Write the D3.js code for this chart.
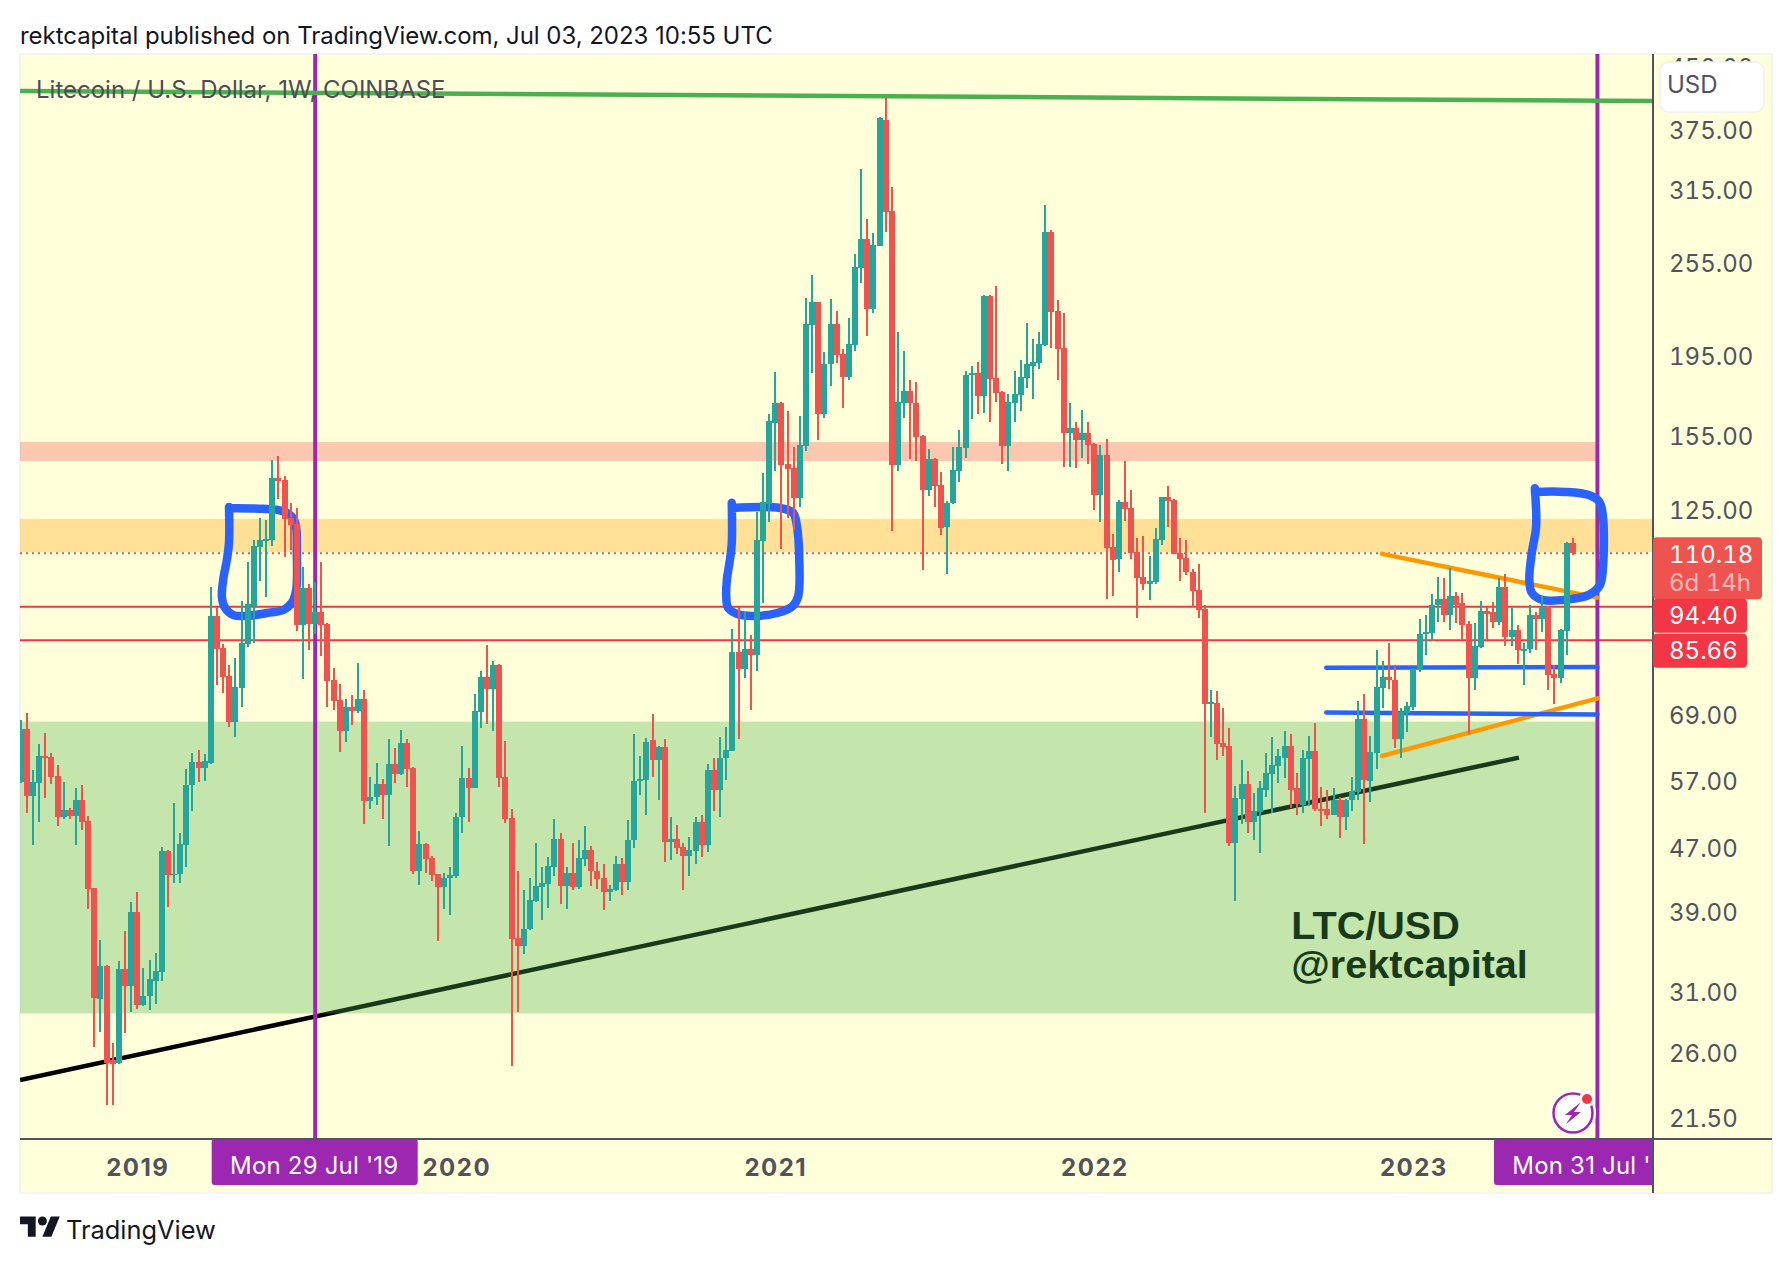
<!DOCTYPE html>
<html>
<head>
<meta charset="utf-8">
<script src="https://cdn.jsdelivr.net/npm/d3@7"></script>
<style>
  body { margin: 0; background: #fff; }
  text { font-family: Inter, "Noto Sans", sans-serif; }
  .num, .num text { font-variant-numeric: tabular-nums; }
</style>
</head>
<body>
<div id="chart"></div>
<script>
// weekly LTC/USD candles, first bar is Mon 27 Aug 2018, last is Mon 3 Jul 2023
const opens = [56.9,66.3,54.6,56.7,61.3,61.1,57.8,51.3,52.4,51.5,53.9,50.8,41.8,30.3,33.4,25.4,25.2,33.1,31.5,39,29.8,30.6,32,32.8,46.6,43.4,43.5,47.4,56.3,60.3,
  59.2,60,91.9,83.7,77.2,67.6,74.6,84.7,94.7,112.3,114.3,114.6,137,136.4,122,120,89.6,99.7,89.9,93,89.9,76.4,72.1,65.9,70.7,69.9,72.3,53.8,54.4,56.5,
  54.7,59.9,58.2,63.7,59.2,43.9,47.5,45.6,43.5,41.9,43.1,43.3,51.3,57.5,55.9,69.7,77.1,74.4,79.8,57.7,51.2,36.2,35.4,37.1,40.3,41.9,42.3,44.5,48.2,42.1,
  43.7,42,45.5,46.7,44,43,41.3,41.6,44.8,42.6,48,57,57.2,64.1,60.5,62.9,47.8,48.2,47.1,45.9,46.6,50.6,47.4,58.9,55.6,60.9,62.2,82.9,78.9,83.5,
  82,114.3,127.1,160.8,170.2,142.6,141,129.3,150.4,213.6,227.9,165,190.3,214,196,183.4,201.2,251.9,273.5,223.4,268.2,386,296.4,142.3,170.2,176.2,170.2,154.8,132.3,144.7,
  134.2,118.8,127.3,139.8,149.5,184.4,185.5,173.8,232,182.9,175.6,150.3,170.2,174.3,182.9,189.5,191,201.2,279.2,222.2,199.5,156,158.4,152.9,155.9,151.2,130.4,146.4,112.2,108.3,
  127.9,125.6,110.6,102.9,100.9,101.4,114.5,129.7,128.6,110.3,108.7,104.4,99.1,93.8,71.3,71.5,63.7,63.1,47.7,54.1,56.5,50.7,52.1,55.6,58.2,59.5,61,63.1,55.8,53.2,
  60.8,62.2,52.5,52.5,51.7,54,51.3,53.9,55.3,68.3,57,61.8,74.6,77.1,76.4,64.3,69.5,70.7,78.7,87.2,87.5,94.8,96.6,92.2,97.4,95.3,89.9,76.7,84,93.3,
  93,90.4,99.9,86.6,88.3,83.3,83.5,92.2,91.1,94.4,77.7,76.9,88,113.5];
const highs = [68.1,69.5,58.9,63.5,65.5,61.9,59.7,56.9,52.7,55.9,56.4,51.5,41.8,36,33.5,26.7,33.9,36.9,40.2,41.3,33.2,34,34.7,47.1,46.7,53.5,49.1,59,61.9,62.3,
  61.7,100,94.2,84.8,79.8,81.4,96,107.4,114.5,122,121.3,144.3,146,137.9,127.5,125.7,106,100.9,101.4,107.3,90,79.1,75.5,72.3,73.1,80.3,74.2,57.7,60,57.4,
  64.4,62.8,66.1,64.3,59.4,49.4,47.7,45.9,43.6,43.7,44.5,52,63.1,59.2,73.4,78.4,84.5,80.7,80,64,52.5,44,41.6,43,47.7,44.5,45.7,51,49.1,44.5,
  47.6,48.1,50,47.2,45.1,44.9,42.2,45.9,45.6,50.9,65.4,61.2,64.6,69.3,63,64.4,51.4,50.2,47.7,48.5,51.3,51.6,59.9,61,64.8,66.7,88.6,94.3,93,86.9,
  124.2,139,165,186.2,170.5,166.3,149.7,163.7,230.6,246.5,228,197,230,222,198.8,217.7,262.3,335,289.8,278.5,389,412.5,317.6,209,197.7,182,181,155,149,145,
  139.3,128,150,157.4,186.8,189.5,191.7,232.5,232.4,238.5,176.2,174.9,186.8,192.8,214.5,204.8,209,301.7,280.8,229.3,221,170.2,161,166.8,161,151.7,150.7,153.4,116.5,128.6,
  143.8,132.3,115,115.8,109.2,118.6,129.8,133.8,129,115,114.5,105.3,106.9,95,74.2,73.9,70.5,66.5,56.2,60.5,58.6,55.1,57,61.9,64.7,62.6,65.9,65.4,58.4,62.4,
  64.9,67.5,56,55.6,55.8,54.5,54.1,57.7,71.9,73.4,64.9,83.3,80.7,84.9,79.8,70.5,71.7,79,91.2,92.2,98,102.9,102.6,105.6,98.5,98.2,90.6,90,96,94.4,
  95.8,102.6,103.8,94,89.6,85,95,93,97.4,94.5,79.8,88.5,114,115];
const lows = [56.7,52,47.4,50.6,54.3,56.5,50.1,51,51.1,47.4,49.5,39.4,26.4,27.6,22.3,22.3,25.1,27.5,29.2,29.5,29.7,29.4,29.9,32,39.6,42.4,42.4,44.5,52.2,56.9,
  57,59.8,75.2,73.5,66.7,64.8,70.7,84,85,101.7,97,112.6,129,109,111.3,88,76.6,83.3,87.2,81.9,70.7,70.1,62,63.9,67,69.5,50.3,52.5,53.2,51.1,
  47.3,56.7,58,56,43.6,42.2,43.7,42.7,35.9,39.4,38.7,43,49,50.7,55.8,66.5,67.2,65.9,56,50.5,25,29.2,34.6,37,40.2,38.1,39.5,43.3,39.9,39.4,
  41.6,41.7,44.6,42.1,41.7,39.3,40.3,41.5,41,41.6,47,54.8,51.7,57.7,54,45.1,45.4,46.2,41.6,43.3,44.9,45.7,46.4,52.3,51.4,57.2,62.2,64.3,76.8,70.1,
  78.4,95.5,120.6,139.8,111.6,122,118,126,148,185.7,153,163,179,191,167.7,181.9,197.8,240.8,206.7,221,268,279,117.6,139.8,163,144.7,143.9,105,129.9,126,
  116.2,103.9,127,135.4,145,162.5,165,165.5,161,170.7,142.7,139.8,161,166.3,178,172,187.8,201,199.5,182,141.6,141.6,141.2,145,142.7,124.9,120.6,96.6,97.4,104.4,
  121,108.5,91.4,99,96.3,100.9,113,119,109.8,101.7,103.4,94.4,91.4,52,64.7,60.5,61.2,47.3,40.3,50.4,49.1,48,46.3,54.5,52,56.7,57.5,52.7,51.7,51.9,
  53,52.3,50.1,51,51.6,48.4,49.5,52.2,54,47.5,53.6,59,70.5,74.4,62.8,61,65.7,70.1,78.2,82,85.6,90.4,90.4,88.3,90.1,85.8,65.4,74.2,83.8,85.8,
  88.8,89.6,84.3,84.3,80,75.2,82.5,83.3,87.8,74.2,71.3,75.7,82,109.5];
const closes = [66.3,54.6,56.9,61.3,60.9,57.7,51.3,52.4,51.5,53.9,50.7,41.7,30.4,33.4,25.2,25.1,33.1,31.5,39,29.8,30.6,32.1,32.9,46.6,43.4,43.6,47.5,56.4,60.3,59.2,
  60.4,91.9,83.6,77,67.7,74.8,84.9,95.2,112.5,114.5,114.9,137,136,121.7,119.5,89.6,99.7,89.9,93,89.6,76.2,71.9,65.9,70.7,69.9,72.3,53.8,54.5,56.5,54.7,
  59.9,58.2,63.7,59,43.9,47.5,45.5,43.4,41.9,43.1,43.4,51.4,57.5,55.9,69.9,77.1,74.4,79.8,57.5,51,36.1,35.4,37.2,40.4,42.1,42.4,44.6,48.2,42.1,43.7,
  42,45.6,46.7,43.9,42.9,41.3,41.7,44.8,42.6,48.1,57,57.3,63.9,60.5,62.9,47.8,48.2,47,45.9,46.7,50.6,47.4,58.9,55.6,61,62.4,82.9,78.9,83.5,82,
  114.5,127.9,161.6,170.2,142.3,140.6,129.3,150.7,214,227.9,165,190.6,214,195.6,183.4,201.8,252.4,273.5,223.4,269,388.1,295.6,142.3,170.7,176.2,170.2,154.3,132.3,144.7,133.8,
  118.6,127.6,140.2,149.9,184.6,185.5,173.8,232,182.4,175,150.3,170.7,174.9,183.4,190.6,191.7,201.8,279.2,221.5,199,156,158.4,152.9,155.9,150.7,130.4,146.4,112,108.1,127.9,
  125.3,110.3,102.6,100.9,101.7,114.9,129.7,128.2,110,108.4,104.4,98.8,93.5,71.3,71.7,63.5,62.9,47.7,54.3,56.5,50.7,52.2,55.8,58.4,59.7,61.2,63.1,55.6,53.3,61,
  62.2,52.5,52.4,51.7,54,51.3,54,55.4,68.3,57.2,62,74.8,77.1,76.4,64.3,69.7,70.9,78.9,87.2,87.7,95,96.6,92.2,97.4,95,89.6,76.7,84.3,93.3,92.5,
  90.4,99.9,86.6,88.3,83.3,83.5,92.2,91.1,94.4,77.5,76.9,88.3,113.5,110.18];

// axis labels
const yearBars = [19, 71, 123, 175, 227];
const yearLabels = ["2019", "2020", "2021", "2022", "2023"];
const priceTicks = [450, 375, 315, 255, 195, 155, 125, 69, 57, 47, 39, 31, 26, 21.5];
const cycleBars = [48, 257];
const cycleLabels = ["Mon 29 Jul '19", "Mon 31 Jul '23"];

// horizontal levels
const lastPrice = 110.18;
const redLevels = [94.40, 85.66];
const greenZone = [67.7, 29.1];
const pinkZone = [152, 143.9];
const orangeZone = [121.7, 110.6];

// hand drawn lines, as [bar, price]
const greenLine = [[-0.1, 419.8], [266.1, 407.8]];
const blackLine = [[-0.1, 24], [244.2, 61]];
const orangeLines = [[[221.9, 110], [257, 96.9]], [[221.9, 61.3], [257, 72.4]]];
const blueLines = [[[212.8, 79.1], [257, 79.3]], [[212.8, 69.5], [257, 69.1]]];
const scribbles = [
  [[33.95,126],[33.95,113.5],[33.6,108.1],[33,102],[32.8,97.1],[33.3,94.1],[34.6,92.2],[36.9,91.9],[40.1,92.7],[42.8,93.5],[44.2,95.5],[44.9,99.1],[45,111.3],[44.9,118.9],[44.4,122],[43.4,123.8],[41.9,124.9],[39.5,125.3],[33.95,125.6]],
  [[115.9,127.5],[115.9,113.5],[115.6,108.1],[115.1,102],[115,97.1],[115.3,94.1],[116.8,92.4],[119.4,91.9],[123.3,92.7],[125.7,94.4],[126.7,97.1],[126.9,108.1],[126.5,119.5],[125.9,123.8],[123.8,125.6],[115.9,125.6]],
  [[246.8,133],[247,118.9],[246.3,110.3],[245.9,102],[246.3,98.3],[248,96.3],[251.7,96.3],[255.6,97.7],[257.4,100.5],[257.9,105.9],[257.9,122.4],[257.3,127.9],[255.6,130.4],[251.7,131.6],[246.8,131.6]]
];

const width = 1792;
const height = 1264;
const plot = {left: 20, top: 54, right: 1653, bottom: 1139, outerRight: 1772, outerBottom: 1193};
const up = "#26a69a", down = "#ef5350", purple = "#9c27b0", red = "#f23645", axisGrey = "#50535e";

const x = d3.scaleLinear().domain([0, closes.length - 1]).range([20.7, 1572.9]);
const y = d3.scaleLog().domain([21.5, 375]).range([1118, 130]);
const pen = d3.line().x(d => x(d[0])).y(d => y(d[1]));

const svg = d3.select("#chart").append("svg")
  .attr("width", width).attr("height", height)
  .style("display", "block");

svg.append("defs").append("clipPath").attr("id", "plotClip")
  .append("rect")
  .attr("x", plot.left).attr("y", plot.top)
  .attr("width", plot.right - plot.left).attr("height", plot.bottom - plot.top);
svg.select("defs").append("clipPath").attr("id", "axisClip")
  .append("rect")
  .attr("x", plot.left).attr("y", plot.bottom)
  .attr("width", plot.right - plot.left).attr("height", 60);

svg.append("text").attr("x", 20).attr("y", 44)
  .style("font-size", "24px").style("fill", "#131722").style("letter-spacing", "-0.04px")
  .text("rektcapital published on TradingView.com, Jul 03, 2023 10:55 UTC");

svg.append("rect")
  .attr("x", plot.left).attr("y", plot.top)
  .attr("width", plot.outerRight - plot.left).attr("height", plot.outerBottom - plot.top)
  .style("fill", "#ffffd9").style("stroke", "#eff1f4").style("stroke-width", 1.5);

const chart = svg.append("g").attr("clip-path", "url(#plotClip)");

// the black line and the note sit under the green zone, which tints them
chart.append("path").attr("d", pen(blackLine))
  .style("fill", "none").style("stroke", "#000").style("stroke-width", 4.5);

chart.append("text").attr("x", x(207.1)).attr("y", y(36.1))
  .style("font-family", "'Liberation Sans', sans-serif").style("font-weight", "bold")
  .style("font-size", "39.6px").text("LTC/USD");
chart.append("text").attr("x", x(207.1)).attr("y", y(32.2))
  .style("font-family", "'Liberation Sans', sans-serif").style("font-weight", "bold")
  .style("font-size", "39.6px").text("@rektcapital");

function zone(levels, rightBar, color, alpha) {
  chart.append("rect")
    .attr("x", plot.left).attr("y", y(levels[0]))
    .attr("width", x(rightBar) - plot.left).attr("height", y(levels[1]) - y(levels[0]))
    .style("fill", color).style("fill-opacity", alpha);
}
zone(greenZone, 257.2, "#4caf50", 0.33);
zone(pinkZone, 257.2, "#f23645", 0.28);
zone(orangeZone, 266.1, "#ff9800", 0.3);

chart.selectAll(".level")
  .data(redLevels)
  .enter()
  .append("line")
  .attr("class", "level")
  .attr("x1", plot.left).attr("x2", plot.right)
  .attr("y1", d => y(d)).attr("y2", d => y(d))
  .style("stroke", red).style("stroke-width", 2);

chart.append("line")
  .attr("x1", plot.left).attr("x2", plot.right)
  .attr("y1", y(lastPrice)).attr("y2", y(lastPrice))
  .style("stroke", down).style("stroke-width", 2).style("stroke-dasharray", "2 4");

chart.selectAll(".cycle")
  .data(cycleBars)
  .enter()
  .append("line")
  .attr("class", "cycle")
  .attr("x1", d => x(d)).attr("x2", d => x(d))
  .attr("y1", plot.top).attr("y2", plot.bottom)
  .style("stroke", purple).style("stroke-width", 4);

chart.append("path").attr("d", pen(greenLine))
  .style("fill", "none").style("stroke", "#4caf50").style("stroke-width", 4.5);

chart.selectAll(".orange")
  .data(orangeLines)
  .enter()
  .append("path")
  .attr("class", "orange")
  .attr("d", pen)
  .style("fill", "none").style("stroke", "#ff9800").style("stroke-width", 4.5).style("stroke-linecap", "round");

chart.selectAll(".blue")
  .data(blueLines)
  .enter()
  .append("path")
  .attr("class", "blue")
  .attr("d", pen)
  .style("fill", "none").style("stroke", "#2962ff").style("stroke-width", 4.5).style("stroke-linecap", "round");

const scribblePen = d3.line().x(d => x(d[0])).y(d => y(d[1])).curve(d3.curveCatmullRom.alpha(0.5));
chart.selectAll(".scribble")
  .data(scribbles)
  .enter()
  .append("path")
  .attr("class", "scribble")
  .attr("d", scribblePen)
  .style("fill", "none").style("stroke", "#2962ff").style("stroke-width", 8.5)
  .style("stroke-linecap", "round").style("stroke-linejoin", "round");

// candles go on top of every drawing
const candles = closes.map((c, i) => ({i: i, o: opens[i], h: highs[i], l: lows[i], c: c}));
const candle = chart.append("g").attr("shape-rendering", "crispEdges")
  .selectAll("g")
  .data(candles)
  .enter()
  .append("g")
  .style("fill", d => d.c >= d.o ? up : down);

candle.append("rect")
  .attr("x", d => Math.round(x(d.i)) - 1)
  .attr("width", 2)
  .attr("y", d => y(d.h))
  .attr("height", d => y(d.l) - y(d.h));

candle.append("rect")
  .attr("x", d => Math.round(x(d.i)) - 3)
  .attr("width", 6)
  .attr("y", d => y(Math.max(d.o, d.c)))
  .attr("height", d => Math.max(1.5, Math.abs(y(d.o) - y(d.c))));

chart.append("text").attr("x", 36).attr("y", 98)
  .style("font-size", "24px").style("fill", "#4a4e59")
  .text("Litecoin / U.S. Dollar, 1W, COINBASE");

// axes
const priceAxis = svg.append("g")
  .attr("class", "num")
  .attr("transform", "translate(" + plot.right + ",1)")
  .call(d3.axisRight(y).tickValues(priceTicks).tickFormat(d3.format(".2f")).tickSize(0).tickPadding(16));
priceAxis.select(".domain").remove();
priceAxis.selectAll("text")
  .style("font-size", "24px").style("font-family", "Inter, sans-serif")
  .style("fill", axisGrey);

const timeAxis = svg.append("g")
  .attr("transform", "translate(0," + plot.bottom + ")")
  .call(d3.axisBottom(x).tickValues(yearBars).tickFormat((d, i) => yearLabels[i]).tickSize(0).tickPadding(20));
timeAxis.select(".domain").remove();
timeAxis.selectAll("text")
  .style("font-size", "24px").style("font-family", "Inter, sans-serif").style("font-weight", "bold")
  .style("fill", axisGrey).style("letter-spacing", "1.5px");

const timeTags = svg.append("g").attr("clip-path", "url(#axisClip)");
cycleBars.forEach(function(bar, i) {
  timeTags.append("rect")
    .attr("x", x(bar) - 103.5).attr("y", plot.bottom)
    .attr("width", 206).attr("height", 46).attr("rx", 3)
    .style("fill", purple);
  timeTags.append("text")
    .attr("x", x(bar) - 1).attr("y", plot.bottom + 35)
    .attr("text-anchor", "middle")
    .style("font-size", "24px").style("fill", "#fff").style("letter-spacing", "0.2px")
    .text(cycleLabels[i]);
});

svg.append("line")
  .attr("x1", plot.left).attr("x2", plot.outerRight)
  .attr("y1", plot.bottom).attr("y2", plot.bottom)
  .style("stroke", axisGrey).style("stroke-width", 2);
svg.append("line")
  .attr("x1", plot.right).attr("x2", plot.right)
  .attr("y1", plot.top).attr("y2", plot.outerBottom)
  .style("stroke", axisGrey).style("stroke-width", 2);

// price tags on the axis, pushed down so they stack without covering each other
svg.append("rect").attr("x", plot.right).attr("y", y(lastPrice) - 16)
  .attr("width", 109).attr("height", 62).attr("rx", 4).style("fill", down);
svg.append("text").attr("class", "num").attr("x", 1669).attr("y", y(lastPrice) + 10)
  .style("font-size", "24px").style("fill", "#fff").text("110.18");
svg.append("text").attr("class", "num").attr("x", 1669).attr("y", y(lastPrice) + 38)
  .style("font-size", "24px").style("fill", "#fff").style("fill-opacity", 0.6).text("6d 14h");

redLevels.forEach(function(level, i) {
  const shift = i === 0 ? 8.5 : 10;
  svg.append("rect").attr("x", plot.right).attr("y", y(level) - 16.5 + shift)
    .attr("width", 94).attr("height", 34).attr("rx", 4).style("fill", red);
  svg.append("text").attr("class", "num").attr("x", 1669).attr("y", y(level) + 9 + shift)
    .style("font-size", "24px").style("fill", "#fff")
    .text(d3.format(".2f")(level));
});

// currency box
svg.append("rect").attr("x", 1660).attr("y", 62).attr("width", 104).attr("height", 50).attr("rx", 9)
  .style("fill", "#fff").style("stroke", "#eff1f4").style("stroke-width", 1.5);
svg.append("text").attr("x", 1667).attr("y", 93)
  .style("font-size", "24px").style("fill", axisGrey).text("USD");

// lightning badge
const badge = svg.append("g").attr("transform", "translate(1573,1113)");
badge.append("circle").attr("r", 23).style("fill", "#fff");
badge.append("circle").attr("r", 19.5).style("fill", "#fff").style("stroke", purple).style("stroke-width", 2.5);
badge.append("path").attr("d", "M8,-11 L-8,2 L-1,2 L-7,11 L8,-1 L1,-1 Z").style("fill", purple);
badge.append("circle").attr("cx", 14).attr("cy", -14).attr("r", 8).style("fill", "#fff");
badge.append("circle").attr("cx", 14).attr("cy", -14).attr("r", 5).style("fill", red);

// footer logo
const logo = svg.append("g").attr("transform", "translate(20,1212) scale(1.12)").style("fill", "#131722");
logo.append("path").attr("d", "M14 22H7V11H0V4h14v18zM28 22h-8l7.5-18h8L28 22z");
logo.append("circle").attr("cx", 20).attr("cy", 8).attr("r", 4);
svg.append("text").attr("x", 66).attr("y", 1239)
  .style("font-size", "25.4px").style("fill", "#131722").text("TradingView");
</script>
</body>
</html>
